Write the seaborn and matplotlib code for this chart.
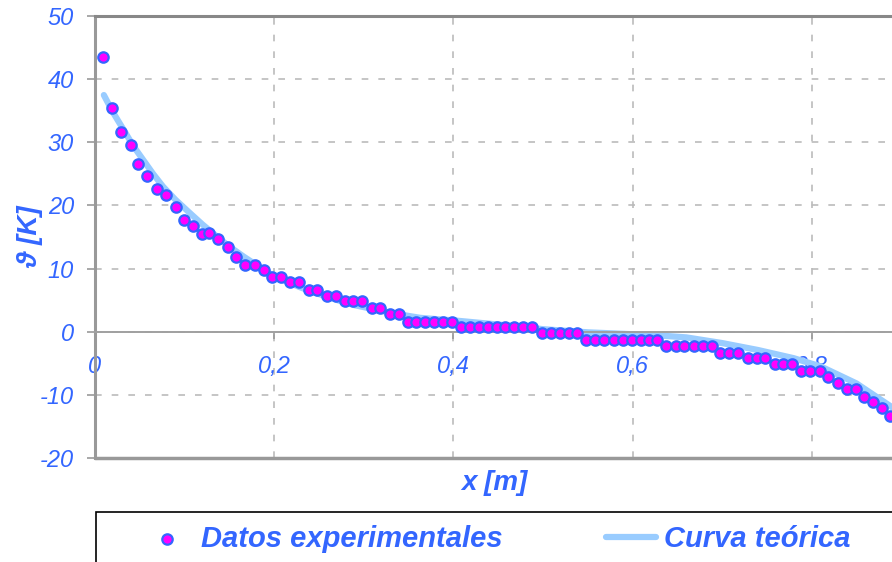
import matplotlib
matplotlib.use("Agg")
import matplotlib.pyplot as plt
import seaborn as sns
import pandas as pd
from matplotlib.patches import Rectangle

# ---------------- data ----------------
x_exp = [0.009, 0.019, 0.029, 0.040, 0.048, 0.058, 0.069, 0.079, 0.090, 0.099,
         0.109, 0.120, 0.127, 0.137, 0.148, 0.158, 0.168, 0.179, 0.189, 0.198,
         0.208, 0.218, 0.228, 0.239, 0.248, 0.259, 0.269, 0.279, 0.288, 0.298,
         0.309, 0.318, 0.329, 0.339, 0.349, 0.358, 0.368, 0.378, 0.388, 0.398,
         0.409, 0.419, 0.429, 0.439, 0.449, 0.458, 0.468, 0.478, 0.488, 0.499,
         0.509, 0.519, 0.529, 0.538, 0.548, 0.558, 0.568, 0.579, 0.589, 0.599,
         0.609, 0.618, 0.627, 0.637, 0.648, 0.658, 0.669, 0.679, 0.689, 0.698,
         0.708, 0.718, 0.729, 0.739, 0.748, 0.759, 0.768, 0.778, 0.788, 0.798,
         0.809, 0.818, 0.829, 0.839, 0.849, 0.858, 0.868, 0.878, 0.887]
y_exp = [43.6, 35.4, 31.6, 29.6, 26.5, 24.6, 22.6, 21.7, 19.8, 17.7,
         16.8, 15.5, 15.6, 14.7, 13.5, 11.9, 10.5, 10.5, 9.8, 8.6,
         8.6, 7.8, 7.8, 6.6, 6.6, 5.7, 5.7, 4.9, 4.9, 4.9,
         3.7, 3.7, 2.8, 2.8, 1.5, 1.5, 1.5, 1.5, 1.5, 1.5,
         0.8, 0.8, 0.8, 0.8, 0.8, 0.8, 0.8, 0.8, 0.8, -0.2,
         -0.2, -0.2, -0.2, -0.2, -1.3, -1.3, -1.3, -1.3, -1.3, -1.3,
         -1.3, -1.3, -1.3, -2.2, -2.2, -2.2, -2.2, -2.2, -2.2, -3.3,
         -3.3, -3.3, -4.2, -4.2, -4.2, -5.1, -5.1, -5.1, -6.2, -6.2,
         -6.2, -7.2, -8.2, -9.1, -9.1, -10.3, -11.1, -12.1, -13.3]

x_curve = [0.010, 0.020, 0.032, 0.043, 0.054, 0.065, 0.076, 0.090, 0.106, 0.120,
           0.136, 0.150, 0.166, 0.180, 0.195, 0.210, 0.228, 0.245, 0.260, 0.275,
           0.290, 0.310, 0.330, 0.350, 0.363, 0.380, 0.400, 0.430, 0.460, 0.500,
           0.550, 0.600, 0.630, 0.660, 0.700, 0.740, 0.780, 0.810, 0.850, 0.890]
y_curve = [37.5, 34.8, 32.0, 29.4, 27.2, 25.0, 23.0, 20.9, 18.8, 17.0,
           15.1, 13.5, 11.9, 10.6, 9.2, 8.2, 7.1, 6.2, 5.5, 4.8,
           4.2, 3.6, 3.0, 2.5, 2.2, 2.0, 1.8, 1.4, 1.0, 0.4,
           -0.1, -0.4, -0.6, -0.9, -1.8, -2.9, -4.2, -5.5, -8.2, -12.0]

x_ticks = [0.0, 0.2, 0.4, 0.6, 0.8]
x_tick_labels = ["0", "0,2", "0,4", "0,6", "0,8"]
y_ticks = [-20, -10, 0, 10, 20, 30, 40, 50]
y_tick_labels = ["-20", "-10", "0", "10", "20", "30", "40", "50"]

label_exp = "Datos experimentales"
label_curve = "Curva teórica"
x_title = "x [m]"
y_title = "ϑ [K]"

# ---------------- style ----------------
sns.set_theme(style="white")
plt.rcParams["font.family"] = ["Liberation Sans", "DejaVu Sans"]

BLUE = "#3366FF"
PINK = "#FF00FF"
LINE = "#99CCFF"
GRID = "#BBBBBB"

fig = plt.figure(figsize=(8.92, 5.62), dpi=100)
ax = fig.add_axes([0.1064, 0.1852, 1.0045, 0.786])

df_exp = pd.DataFrame({"x": x_exp, "y": y_exp})
df_cur = pd.DataFrame({"x": x_curve, "y": y_curve})

sns.lineplot(data=df_cur, x="x", y="y", ax=ax, color=LINE, linewidth=4.5,
             sort=False, label=label_curve, zorder=2)
sns.scatterplot(data=df_exp, x="x", y="y", ax=ax, color=PINK, edgecolor=BLUE,
                linewidth=1.6, s=56, label=label_exp, zorder=3)

ax.set_xlim(0, 1.0)
ax.set_ylim(-20, 50)

# grid
ax.set_axisbelow(True)
ax.grid(True, linestyle=(0, (4, 6)), color=GRID, linewidth=1.2)
ax.axvline(1.0, color=GRID, linestyle=(0, (4, 6)), linewidth=1.2, zorder=0)

# spines
ax.spines["right"].set_visible(False)
ax.spines["top"].set_color("#888888")
ax.spines["top"].set_linewidth(2.2)
ax.spines["left"].set_color("#999999")
ax.spines["left"].set_linewidth(2.2)
ax.spines["bottom"].set_position(("data", 0))
ax.spines["bottom"].set_color("#A0A0A0")
ax.spines["bottom"].set_linewidth(1.4)
ax.axhline(-20, color="#999999", linewidth=2.5, clip_on=False, zorder=1)

# ticks
ax.set_xticks(x_ticks)
ax.set_xticklabels(x_tick_labels, fontsize=17, fontstyle="italic", color=BLUE)
ax.set_yticks(y_ticks)
ax.set_yticklabels(y_tick_labels, fontsize=17, fontstyle="italic", color=BLUE)
ax.tick_params(axis="x", direction="out", length=5, width=1.2, color="#999999",
               pad=12, bottom=True)
ax.tick_params(axis="y", direction="out", length=6, width=1.2, color="#999999",
               pad=9, left=True)

# axis titles
ax.set_xlabel(x_title, fontsize=20, fontweight="bold", fontstyle="italic", color=BLUE)
ax.xaxis.set_label_coords((494 - 94.9) / 896, -0.027)
ax.set_ylabel(y_title, fontsize=20, fontweight="bold", fontstyle="italic", color=BLUE,
              family=["Liberation Sans", "DejaVu Sans"])
ax.yaxis.label.set_va("center")
ax.yaxis.set_label_coords(-0.072, 0.50)

# legend
handles, labels = ax.get_legend_handles_labels()
order = [labels.index(label_exp), labels.index(label_curve)]
ax.get_legend().remove()
fig.legend([handles[i] for i in order], [labels[i] for i in order],
           loc="center left", bbox_to_anchor=(128 / 892, (562 - 539) / 562),
           ncol=2, frameon=False, borderpad=0, handlelength=1.7,
           handletextpad=0.3, columnspacing=3.55,
           prop={"family": ["Liberation Sans", "DejaVu Sans"], "size": 21,
                 "weight": "bold", "style": "italic"},
           labelcolor=BLUE, markerscale=1.0)
fig.add_artist(Rectangle((96 / 892, -0.1), 1.0, (562 - 512) / 562 + 0.1,
                         transform=fig.transFigure, fill=False,
                         edgecolor="black", linewidth=1.2))

fig.savefig("out.png", dpi=100)
